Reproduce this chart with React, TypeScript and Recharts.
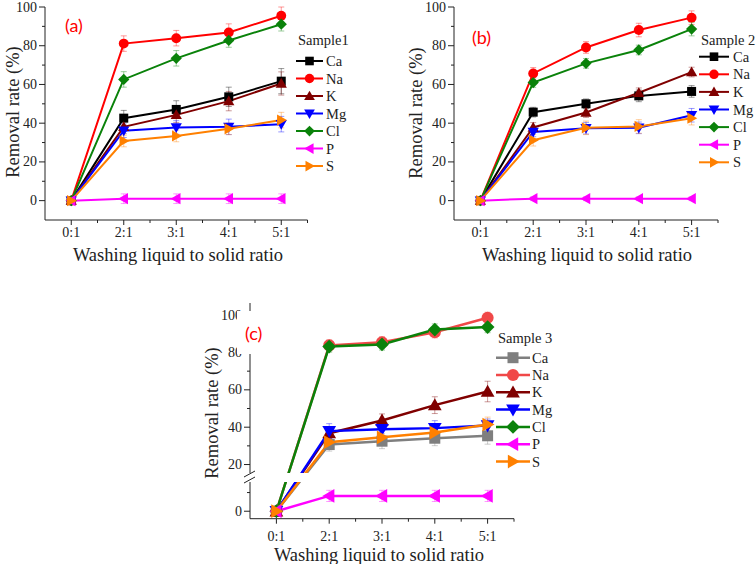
import React from "react";
import { ErrorBar, Line, LineChart, XAxis, YAxis } from "recharts";

const CATEGORIES = ["0:1", "2:1", "3:1", "4:1", "5:1"];
const ELEMENTS = ["Ca", "Na", "K", "Mg", "Cl", "P", "S"];

// sample 1 (a)
const caA = [0, 42.6, 47.1, 53.6, 61.7];
const naA = [0, 81.1, 83.9, 86.8, 95.5];
const kA = [0, 38.1, 44.3, 51.4, 60.5];
const mgA = [0, 36.1, 37.8, 38.1, 39.5];
const clA = [0, 62.6, 73.5, 82.7, 91.1];
const pA = [0, 1, 1, 1, 1];
const sA = [0, 30.8, 33.4, 37.1, 41.6];
const caErrA = [0, 4, 4.5, 5, 6.5];
const naErrA = [0, 4, 4, 4.5, 4.5];
const kErrA = [0, 3.5, 4, 5, 6];
const mgErrA = [0, 3.5, 3.5, 4, 4];
const clErrA = [0, 4, 4, 3.5, 3.5];
const pErrA = [0, 2.5, 2.5, 2.5, 2.5];
const sErrA = [0, 3, 3, 3, 4];

// sample 2 (b)
const caB = [0, 45.7, 50, 54.1, 56.4];
const naB = [0, 65.7, 79.1, 88.1, 94.5];
const kB = [0, 37.8, 45.5, 55.7, 66.4];
const mgB = [0, 35.5, 37.4, 37.6, 44.1];
const clB = [0, 61, 70.9, 77.8, 88.6];
const pB = [0, 1, 1, 1, 1];
const sB = [0, 31.2, 37.6, 38.3, 42.6];
const caErrB = [0, 2.5, 2.5, 3, 3];
const naErrB = [0, 3, 3, 3.5, 3.5];
const kErrB = [0, 2.5, 2.5, 2.5, 2.5];
const mgErrB = [0, 2.5, 3, 3, 3.5];
const clErrB = [0, 2.5, 2.5, 2.5, 3.5];
const pErrB = [0, 1, 1, 1, 1];
const sErrB = [0, 3, 3.5, 3.5, 3.5];

// sample 3 (c)
const caC = [0, 30.7, 32.5, 34.1, 35.4];
const naC = [0, 83.8, 85.5, 90.8, 98.6];
const kC = [0, 36.8, 43.6, 51.8, 59.1];
const mgC = [0, 37.9, 38.9, 39.5, 40.9];
const clC = [0, 83.2, 84.3, 92.3, 93.6];
const pC = [0, 8.2, 8.2, 8.2, 8.2];
const sC = [0, 32, 34.6, 37.1, 41.4];
const caErrC = [0, 3.5, 4, 4, 4.5];
const naErrC = [0, 3, 3, 3, 3];
const kErrC = [0, 3, 3.5, 4.5, 5.5];
const mgErrC = [0, 4, 3.5, 4, 3.5];
const clErrC = [0, 3, 3, 3, 3];
const pErrC = [0, 3, 3, 3, 3];
const sErrC = [0, 3.5, 3.5, 3.5, 4];

// broken axis in (c): values above the break are shifted up by BREAK_GAP
const BREAK_AT = 15;
const BREAK_GAP = 5;
const brk = (v: number) => (v > BREAK_AT ? v + BREAK_GAP : v);

const COLORS: Record<string, string> = {
  Ca: "#000000",
  Na: "#ff0000",
  K: "#800000",
  Mg: "#0000ff",
  Cl: "#0a820a",
  P: "#ff00ff",
  S: "#ff8000",
};
const COLORS_C: Record<string, string> = { ...COLORS, Ca: "#7f7f7f", Na: "#f04848" };

const SHAPES: Record<string, string> = {
  Ca: "square",
  Na: "circle",
  K: "up",
  Mg: "down",
  Cl: "diamond",
  P: "left",
  S: "right",
};

const SERIF = "'Liberation Serif', 'Times New Roman', serif";

function buildRows(vals: number[][], errs: number[][], map: (v: number) => number = (v) => v) {
  return CATEGORIES.map((_, i) => {
    const row: Record<string, number> = { x: i };
    ELEMENTS.forEach((el, k) => {
      row[el] = map(vals[k][i]);
      row[el + "Err"] = errs[k][i];
    });
    return row;
  });
}

const rowsA = buildRows([caA, naA, kA, mgA, clA, pA, sA], [caErrA, naErrA, kErrA, mgErrA, clErrA, pErrA, sErrA]);
const rowsB = buildRows([caB, naB, kB, mgB, clB, pB, sB], [caErrB, naErrB, kErrB, mgErrB, clErrB, pErrB, sErrB]);
const rowsC = buildRows(
  [caC, naC, kC, mgC, clC, pC, sC],
  [caErrC, naErrC, kErrC, mgErrC, clErrC, pErrC, sErrC],
  brk
);

function Marker({ cx, cy, shape, r, color }: { cx: number; cy: number; shape: string; r: number; color: string }) {
  if (cx == null || cy == null) return null;
  const t = r * 1.25;
  switch (shape) {
    case "square":
      return <rect x={cx - r} y={cy - r} width={2 * r} height={2 * r} fill={color} />;
    case "circle":
      return <circle cx={cx} cy={cy} r={r * 1.1} fill={color} />;
    case "up":
      return <polygon points={`${cx},${cy - t} ${cx + t},${cy + t * 0.75} ${cx - t},${cy + t * 0.75}`} fill={color} />;
    case "down":
      return <polygon points={`${cx},${cy + t} ${cx + t},${cy - t * 0.75} ${cx - t},${cy - t * 0.75}`} fill={color} />;
    case "diamond":
      return <polygon points={`${cx},${cy - t} ${cx + t},${cy} ${cx},${cy + t} ${cx - t},${cy}`} fill={color} />;
    case "left":
      return <polygon points={`${cx - t},${cy} ${cx + t * 0.75},${cy - t} ${cx + t * 0.75},${cy + t}`} fill={color} />;
    default:
      return <polygon points={`${cx + t},${cy} ${cx - t * 0.75},${cy - t} ${cx - t * 0.75},${cy + t}`} fill={color} />;
  }
}

interface PanelProps {
  left: number;
  top: number;
  width: number;
  height: number;
  plotTop: number;
  plotBottom: number;
  plotWidth: number;
  rows: Record<string, number>[];
  colors: Record<string, string>;
  yDomain: [number, number];
  yTicks: number[];
  yLabel: (v: number) => string | null;
  markerR: number;
  lineW: number;
  xLabelDy: number;
}

function Panel(p: PanelProps) {
  const axisW = 45;
  const xAxisH = p.height - p.plotBottom;
  const renderYTick = (props: any) => {
    const { x, y, payload } = props;
    const label = p.yLabel(payload.value);
    return (
      <g key={`yt${payload.value}`}>
        <line x1={x} x2={x - (label != null ? 6 : 3)} y1={y} y2={y} stroke="#222" strokeWidth={1} />
        {label != null && (
          <text x={x - 8} y={y} textAnchor="end" dominantBaseline="central" fontFamily={SERIF} fontSize={14} fill="#222">
            {label}
          </text>
        )}
      </g>
    );
  };
  const renderXTick = (props: any) => {
    const { x, y, payload } = props;
    const v = payload.value as number;
    const major = Number.isInteger(v);
    return (
      <g key={`xt${v}`}>
        <line x1={x} x2={x} y1={y} y2={y + (major ? 5 : 3)} stroke="#222" strokeWidth={1} />
        {major && (
          <text x={x} y={y + p.xLabelDy} textAnchor="middle" dominantBaseline="central" fontFamily={SERIF} fontSize={14} fill="#222">
            {CATEGORIES[v]}
          </text>
        )}
      </g>
    );
  };
  return (
    <div style={{ position: "absolute", left: p.left, top: p.top }}>
      <LineChart
        width={p.width}
        height={p.height}
        data={p.rows}
        margin={{ top: p.plotTop, right: p.width - axisW - p.plotWidth, bottom: 0, left: 0 }}
      >
        <XAxis
          type="number"
          dataKey="x"
          domain={[-0.5, 4.5]}
          ticks={[0, 0.5, 1, 1.5, 2, 2.5, 3, 3.5, 4, 4.5]}
          interval={0}
          height={xAxisH}
          tickLine={false}
          tickSize={0}
          tickMargin={0}
          axisLine={{ stroke: "#222", strokeWidth: 1 }}
          tick={renderXTick}
          allowDataOverflow
        />
        <YAxis
          type="number"
          domain={p.yDomain}
          ticks={p.yTicks}
          interval={0}
          width={axisW}
          tickLine={false}
          tickSize={0}
          tickMargin={0}
          axisLine={{ stroke: "#222", strokeWidth: 1 }}
          tick={renderYTick}
          allowDataOverflow
        />
        {ELEMENTS.map((el) => (
          <Line
            key={el}
            type="linear"
            dataKey={el}
            stroke={p.colors[el]}
            strokeWidth={p.lineW}
            isAnimationActive={false}
            dot={(d: any) => (
              <Marker key={`${el}${d.index}`} cx={d.cx} cy={d.cy} shape={SHAPES[el]} r={p.markerR} color={p.colors[el]} />
            )}
            activeDot={false}
          >
            <ErrorBar
              dataKey={el + "Err"}
              direction="y"
              width={3}
              stroke={p.colors[el]}
              strokeOpacity={0.4}
              strokeWidth={1}
              isAnimationActive={false}
            />
          </Line>
        ))}
      </LineChart>
    </div>
  );
}

function LegendBox({
  x,
  y,
  title,
  firstY,
  step,
  lineLen,
  textGap,
  markerR,
  lineW,
  colors,
}: {
  x: number;
  y: number;
  title: string;
  firstY: number;
  step: number;
  lineLen: number;
  textGap: number;
  markerR: number;
  lineW: number;
  colors: Record<string, string>;
}) {
  return (
    <svg style={{ position: "absolute", left: 0, top: 0, overflow: "visible" }} width={1} height={1}>
      <text x={x + 2} y={y} dominantBaseline="central" fontFamily={SERIF} fontSize={14.5} fill="#222">
        {title}
      </text>
      {ELEMENTS.map((el, i) => {
        const cy = firstY + i * step;
        return (
          <g key={el}>
            <line x1={x} x2={x + lineLen} y1={cy} y2={cy} stroke={colors[el]} strokeWidth={lineW} />
            <Marker cx={x + lineLen / 2} cy={cy} shape={SHAPES[el]} r={markerR} color={colors[el]} />
            <text x={x + lineLen + textGap} y={cy} dominantBaseline="central" fontFamily={SERIF} fontSize={14.5} fill="#222">
              {el}
            </text>
          </g>
        );
      })}
    </svg>
  );
}

const titleStyle: React.CSSProperties = {
  position: "absolute",
  fontFamily: SERIF,
  fontSize: 18.5,
  color: "#222",
  whiteSpace: "nowrap",
  lineHeight: 1,
  transform: "translate(-50%, -50%)",
};

const tagStyle: React.CSSProperties = {
  position: "absolute",
  fontFamily: "Lato, 'Open Sans', sans-serif",
  fontSize: 18,
  color: "#ff0000",
  whiteSpace: "nowrap",
  lineHeight: 1,
};

const abTicks = [0, 10, 20, 30, 40, 50, 60, 70, 80, 90, 100];
const abLabel = (v: number) => (v % 20 === 0 ? String(v) : null);
const cTicks = [0, 10, 25, 35, 45, 55, 65, 75, 85, 95, 105];
const cLabel = (v: number) => {
  const raw = v > BREAK_AT ? v - BREAK_GAP : v;
  return raw % 20 === 0 ? String(raw) : null;
};

export default function App() {
  return (
    <div style={{ position: "absolute", left: 0, top: 0, width: 756, height: 564, background: "#fff", overflow: "hidden" }}>
      {/* (a) */}
      <Panel
        left={0}
        top={0}
        width={340}
        height={280}
        plotTop={7}
        plotBottom={220}
        plotWidth={262.5}
        rows={rowsA}
        colors={COLORS}
        yDomain={[-10, 100]}
        yTicks={abTicks}
        yLabel={abLabel}
        markerR={4.5}
        lineW={2}
        xLabelDy={12}
      />
      <LegendBox x={296} y={40} title="Sample1" firstY={61} step={17.5} lineLen={27} textGap={3} markerR={4.3} lineW={2} colors={COLORS} />
      <div style={{ ...titleStyle, left: 13, top: 112, transform: "translate(-50%, -50%) rotate(-90deg)" }}>Removal rate (%)</div>
      <div style={{ ...titleStyle, left: 178, top: 255 }}>Washing liquid to solid ratio</div>
      <div style={{ ...tagStyle, left: 65, top: 16 }}>(a)</div>

      {/* (b) */}
      <Panel
        left={409}
        top={0}
        width={320}
        height={280}
        plotTop={7}
        plotBottom={220}
        plotWidth={264}
        rows={rowsB}
        colors={COLORS}
        yDomain={[-10, 100]}
        yTicks={abTicks}
        yLabel={abLabel}
        markerR={4.5}
        lineW={2}
        xLabelDy={12}
      />
      <LegendBox x={699} y={40} title="Sample 2" firstY={56.7} step={17.6} lineLen={30} textGap={4} markerR={4.3} lineW={2} colors={COLORS} />
      <div style={{ ...titleStyle, left: 416, top: 113, transform: "translate(-50%, -50%) rotate(-90deg)" }}>Removal rate (%)</div>
      <div style={{ ...titleStyle, left: 587, top: 255 }}>Washing liquid to solid ratio</div>
      <div style={{ ...tagStyle, left: 472, top: 28 }}>(b)</div>

      {/* (c) */}
      <Panel
        left={205}
        top={296}
        width={340}
        height={268}
        plotTop={7}
        plotBottom={222.7}
        plotWidth={264}
        rows={rowsC}
        colors={COLORS_C}
        yDomain={[-4, 111.5]}
        yTicks={cTicks}
        yLabel={cLabel}
        markerR={5.5}
        lineW={2.5}
        xLabelDy={17.5}
      />
      {/* axis break band */}
      <div style={{ position: "absolute", left: 243, top: 473, width: 272, height: 9, background: "#fff" }} />
      <svg style={{ position: "absolute", left: 0, top: 0, overflow: "visible" }} width={1} height={1}>
        <line x1={244} y1={477} x2={255} y2={471} stroke="#222" strokeWidth={1} />
        <line x1={244} y1={483} x2={255} y2={477} stroke="#222" strokeWidth={1} />
      </svg>
      <LegendBox x={496} y={338} title="Sample 3" firstY={357.7} step={17.3} lineLen={34} textGap={2} markerR={5.5} lineW={2.5} colors={COLORS_C} />
      <div style={{ ...titleStyle, left: 212, top: 413, transform: "translate(-50%, -50%) rotate(-90deg)" }}>Removal rate (%)</div>
      <div style={{ ...titleStyle, left: 379, top: 555 }}>Washing liquid to solid ratio</div>
      <div style={{ ...tagStyle, left: 237, top: 311, width: 55, height: 43, background: "#fff", paddingLeft: 8, paddingTop: 13, boxSizing: "border-box" }}>
        (c)
      </div>
    </div>
  );
}
